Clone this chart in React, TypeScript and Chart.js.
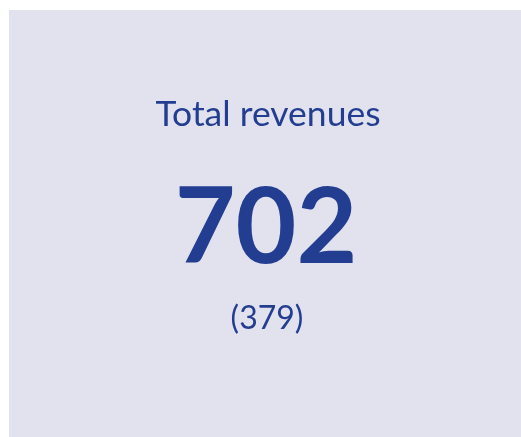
import React, { useEffect, useRef } from "react";
import { Chart, registerables } from "chart.js";

Chart.register(...registerables);

const titleLabels = ["Total revenues"];
const currentValues = [702];
const previousValues = [379];

const TEXT_COLOR = "#233d91";
const BG_COLOR = "#e2e2ef";
const FONT = "Lato, 'Noto Sans', sans-serif";

const kpiPlugin = {
  id: "kpiText",
  afterDraw(chart: any) {
    const ctx = chart.ctx as CanvasRenderingContext2D;
    const w = chart.width;
    const cx = w / 2 + 1;
    ctx.save();
    ctx.fillStyle = TEXT_COLOR;
    ctx.textAlign = "center";
    ctx.textBaseline = "alphabetic";
    ctx.font = `400 35.5px ${FONT}`;
    ctx.fillText(titleLabels[0], cx + 2, 116);
    ctx.font = `700 105px ${FONT}`;
    ctx.fillText(String(currentValues[0]), cx, 253);
    ctx.font = `400 32px ${FONT}`;
    ctx.fillText(`(${previousValues[0]})`, cx + 1, 319);
    ctx.restore();
  },
};

export default function App() {
  const ref = useRef<HTMLCanvasElement | null>(null);
  useEffect(() => {
    if (!ref.current) return;
    const chart = new Chart(ref.current, {
      type: "bar",
      data: {
        labels: titleLabels,
        datasets: [{ data: [], backgroundColor: "transparent" }],
      },
      options: {
        animation: false,
        responsive: true,
        maintainAspectRatio: false,
        events: [],
        plugins: { legend: { display: false }, tooltip: { enabled: false } },
        scales: { x: { display: false }, y: { display: false } },
      },
      plugins: [kpiPlugin],
    });
    return () => chart.destroy();
  }, []);
  return (
    <div
      style={{
        position: "fixed",
        left: 9,
        top: 10,
        width: 512,
        height: 427,
        background: BG_COLOR,
      }}
    >
      <canvas ref={ref} />
    </div>
  );
}
